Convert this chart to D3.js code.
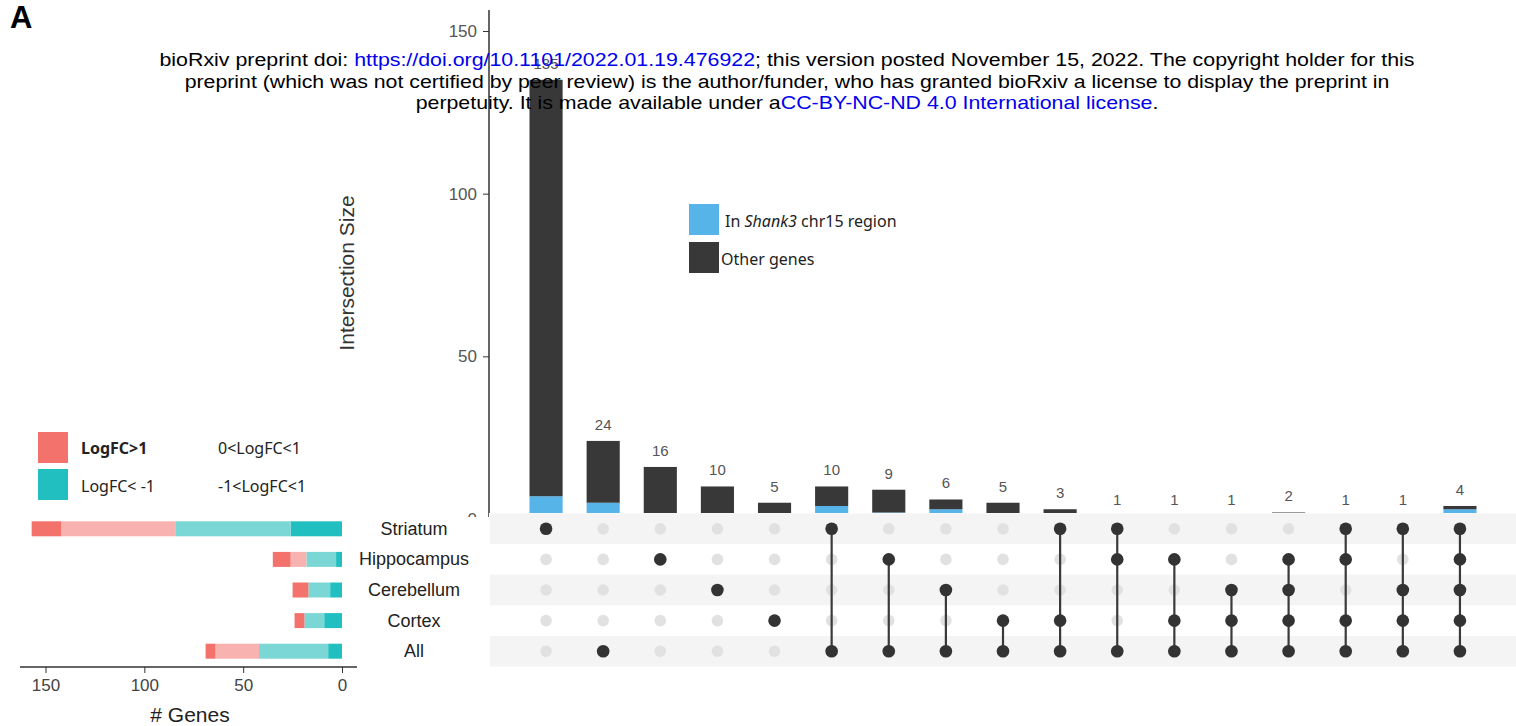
<!DOCTYPE html>
<html>
<head>
<meta charset="utf-8">
<script src="https://cdn.jsdelivr.net/npm/d3@7"></script>
<style>
  body { margin: 0; background: #fff; }
  svg { display: block; }
</style>
</head>
<body>
<svg id="chart" width="1516" height="726"></svg>
<script>
// sets shown in the matrix, top to bottom
const setNames = ['Striatum', 'Hippocampus', 'Cerebellum', 'Cortex', 'All'];

// each column of the upset matrix, left to right
const combos = [
  ['Striatum'], ['All'], ['Hippocampus'], ['Cerebellum'], ['Cortex'],
  ['Striatum', 'All'], ['Hippocampus', 'All'], ['Cerebellum', 'All'], ['Cortex', 'All'],
  ['Striatum', 'Cortex', 'All'], ['Striatum', 'Hippocampus', 'All'],
  ['Hippocampus', 'Cortex', 'All'], ['Cerebellum', 'Cortex', 'All'],
  ['Hippocampus', 'Cerebellum', 'Cortex', 'All'],
  ['Striatum', 'Hippocampus', 'Cortex', 'All'],
  ['Striatum', 'Cerebellum', 'Cortex', 'All'],
  ['Striatum', 'Hippocampus', 'Cerebellum', 'Cortex', 'All']
];
const comboSize = [135, 24, 16, 10, 5, 10, 9, 6, 5, 3, 1, 1, 1, 2, 1, 1, 4];
const shankGenes = [7, 5, 0, 0, 0, 4, 2, 3, 0, 0, 0, 0, 0, 0, 0, 0, 3];
const sizeTicks = [0, 50, 100, 150];

// set sizes split by fold change (same order as setNames)
const upStrong = [15, 9, 8, 5, 5];     // LogFC>1
const upWeak = [58, 8, 0, 0, 22];      // 0<LogFC<1
const downWeak = [58, 15, 11, 10, 35]; // -1<LogFC<0
const downStrong = [26, 3, 6, 9, 7];   // LogFC<-1
const geneTicks = [0, 50, 100, 150];

const COL_SHANK = '#56b4e9';
const COL_OTHER = '#383838';
const FC_COLORS = { downStrong: '#22bfc1', downWeak: '#7bd7d5', upWeak: '#f8b3b1', upStrong: '#f3726c' };

const svg = d3.select('#chart');
const SANS = "'Liberation Sans', Arial, sans-serif";

// ---------- top bar chart ----------
const x = d3.scaleBand()
  .domain(d3.range(combos.length))
  .range([517.5, 1488.5])
  .paddingInner(0.42)
  .paddingOuter(0.21);

const y = d3.scaleLinear().domain([0, 150]).range([519, 31]);

const barRows = comboSize.map((v, i) => ({ idx: i, shank: shankGenes[i], other: v - shankGenes[i] }));
const barStack = d3.stack().keys(['shank', 'other'])(barRows);

svg.append('g')
  .selectAll('g')
  .data(barStack)
  .join('g')
  .attr('fill', (d) => (d.key === 'shank' ? COL_SHANK : COL_OTHER))
  .selectAll('rect')
  .data((d) => d)
  .join('rect')
  .attr('x', (d) => x(d.data.idx))
  .attr('width', x.bandwidth())
  .attr('y', (d) => y(d[1]))
  .attr('height', (d) => y(d[0]) - y(d[1]));

svg.append('g')
  .selectAll('text')
  .data(comboSize)
  .join('text')
  .attr('x', (d, i) => x(i) + x.bandwidth() / 2)
  .attr('y', (d) => y(d) - 11)
  .attr('text-anchor', 'middle')
  .attr('font-family', SANS)
  .attr('font-size', 15)
  .attr('fill', '#555')
  .text((d) => d);

const yAxis = svg.append('g')
  .attr('transform', 'translate(489,0)')
  .call(d3.axisLeft(y).tickValues(sizeTicks).tickSize(6).tickSizeOuter(0).tickPadding(6));
yAxis.select('.domain').attr('d', `M0,${y(0)}V10`).attr('stroke', '#333').attr('stroke-width', 1.5);
yAxis.selectAll('.tick line').attr('stroke', '#333');
yAxis.selectAll('.tick text').attr('font-family', SANS).attr('font-size', 17).attr('fill', '#555');

svg.append('text')
  .attr('transform', 'translate(354,273) rotate(-90)')
  .attr('text-anchor', 'middle')
  .attr('font-family', SANS)
  .attr('font-size', 21)
  .attr('fill', '#333')
  .text('Intersection Size');

// legend of the top chart
const topLegend = svg.append('g').attr('font-family', "'Noto Sans', 'Open Sans', sans-serif").attr('font-size', 16).attr('fill', '#222');
topLegend.append('rect').attr('x', 689).attr('y', 204).attr('width', 30).attr('height', 31).attr('fill', COL_SHANK);
topLegend.append('rect').attr('x', 689).attr('y', 242).attr('width', 30).attr('height', 31).attr('fill', COL_OTHER);
const lt = topLegend.append('text').attr('x', 725).attr('y', 227);
lt.append('tspan').text('In ');
lt.append('tspan').attr('font-style', 'italic').text('Shank3');
lt.append('tspan').text(' chr15 region');
topLegend.append('text').attr('x', 721).attr('y', 265).text('Other genes');

// ---------- matrix ----------
const row = d3.scaleBand().domain(setNames).range([513.5, 666.5]);
const rowMid = (s) => row(s) + row.bandwidth() / 2;

// white panel hides the bottom of the bars and half of the 0 label
svg.append('rect').attr('x', 489).attr('y', 513).attr('width', 1027).attr('height', 160).attr('fill', '#fff');
svg.append('rect').attr('x', 440).attr('y', 517).attr('width', 49).attr('height', 10).attr('fill', '#fff');

svg.append('g')
  .selectAll('rect')
  .data(setNames.filter((s, i) => i % 2 === 0))
  .join('rect')
  .attr('x', 490)
  .attr('width', 1026)
  .attr('y', (d) => row(d))
  .attr('height', row.bandwidth())
  .attr('fill', '#f4f4f4');

const cells = [];
combos.forEach((c, i) => setNames.forEach((s) => cells.push({ idx: i, set: s, on: c.includes(s) })));

svg.append('g')
  .selectAll('circle')
  .data(cells.filter((d) => !d.on))
  .join('circle')
  .attr('cx', (d) => x(d.idx) + x.bandwidth() / 2)
  .attr('cy', (d) => rowMid(d.set))
  .attr('r', 5.8)
  .attr('fill', '#e1e1e1');

svg.append('g')
  .selectAll('line')
  .data(combos)
  .join('line')
  .attr('x1', (d, i) => x(i) + x.bandwidth() / 2)
  .attr('x2', (d, i) => x(i) + x.bandwidth() / 2)
  .attr('y1', (d) => d3.min(d, (s) => rowMid(s)))
  .attr('y2', (d) => d3.max(d, (s) => rowMid(s)))
  .attr('stroke', '#3a3a3a')
  .attr('stroke-width', 2.2);

svg.append('g')
  .selectAll('circle')
  .data(cells.filter((d) => d.on))
  .join('circle')
  .attr('cx', (d) => x(d.idx) + x.bandwidth() / 2)
  .attr('cy', (d) => rowMid(d.set))
  .attr('r', 6.3)
  .attr('fill', '#333');

svg.append('g')
  .selectAll('text')
  .data(setNames)
  .join('text')
  .attr('x', 414)
  .attr('y', (d) => rowMid(d) + 6)
  .attr('text-anchor', 'middle')
  .attr('font-family', SANS)
  .attr('font-size', 18)
  .attr('fill', '#222')
  .text((d) => d);

// ---------- set size bars (left) ----------
const gx = d3.scaleLinear().domain([0, 150]).range([342, 45.5]);
const setRows = setNames.map((s, i) => ({
  set: s, downStrong: downStrong[i], downWeak: downWeak[i], upWeak: upWeak[i], upStrong: upStrong[i]
}));
const setStack = d3.stack().keys(['downStrong', 'downWeak', 'upWeak', 'upStrong'])(setRows);
const BAR_H = 15;

svg.append('g')
  .selectAll('g')
  .data(setStack)
  .join('g')
  .attr('fill', (d) => FC_COLORS[d.key])
  .selectAll('rect')
  .data((d) => d)
  .join('rect')
  .attr('x', (d) => gx(d[1]))
  .attr('width', (d) => gx(d[0]) - gx(d[1]))
  .attr('y', (d) => rowMid(d.data.set) - BAR_H / 2)
  .attr('height', BAR_H);

const gAxis = svg.append('g')
  .attr('transform', 'translate(0,667)')
  .call(d3.axisBottom(gx).tickValues(geneTicks).tickSize(6).tickSizeOuter(0).tickPadding(6));
gAxis.select('.domain').attr('d', 'M20,0H357').attr('stroke', '#333').attr('stroke-width', 1.5);
gAxis.selectAll('.tick line').attr('stroke', '#333');
gAxis.selectAll('.tick text').attr('font-family', SANS).attr('font-size', 17).attr('fill', '#444');

svg.append('text')
  .attr('x', 190)
  .attr('y', 722)
  .attr('text-anchor', 'middle')
  .attr('font-family', SANS)
  .attr('font-size', 21)
  .attr('fill', '#222')
  .text('# Genes');

// fold change legend
const fcLegend = svg.append('g').attr('font-family', "'Noto Sans', 'Open Sans', sans-serif").attr('font-size', 16).attr('fill', '#222');
fcLegend.append('rect').attr('x', 38).attr('y', 432).attr('width', 30).attr('height', 31).attr('fill', FC_COLORS.upStrong);
fcLegend.append('rect').attr('x', 38).attr('y', 469).attr('width', 30).attr('height', 31).attr('fill', FC_COLORS.downStrong);
fcLegend.append('text').attr('x', 81).attr('y', 454).attr('font-weight', 'bold').text('LogFC>1');
fcLegend.append('text').attr('x', 81).attr('y', 492).text('LogFC< -1');
fcLegend.append('text').attr('x', 218).attr('y', 454).text('0<LogFC<1');
fcLegend.append('text').attr('x', 218).attr('y', 492).text('-1<LogFC<1');

// ---------- panel letter and preprint header ----------
svg.append('text')
  .attr('x', 10).attr('y', 28)
  .attr('font-family', SANS).attr('font-size', 31).attr('font-weight', 'bold')
  .text('A');

const header = [
  { y: 66, w: 1256, parts: [['bioRxiv preprint doi: ', '#000'], ['https://doi.org/10.1101/2022.01.19.476922', '#0000ee'], ['; this version posted November 15, 2022. The copyright holder for this', '#000']] },
  { y: 88, w: 1206, parts: [['preprint (which was not certified by peer review) is the author/funder, who has granted bioRxiv a license to display the preprint in', '#000']] },
  { y: 109, w: 743, parts: [['perpetuity. It is made available under a', '#000'], ['CC-BY-NC-ND 4.0 International license', '#0000ee'], ['.', '#000']] }
];
header.forEach((h) => {
  const t = svg.append('text')
    .attr('text-anchor', 'middle')
    .attr('font-family', SANS)
    .attr('font-size', 19);
  t.selectAll('tspan').data(h.parts).join('tspan').attr('fill', (d) => d[1]).text((d) => d[0]);
  const len = t.node().getComputedTextLength();
  t.attr('transform', `translate(787,${h.y}) scale(${h.w / len},1)`);
});
</script>
</body>
</html>
